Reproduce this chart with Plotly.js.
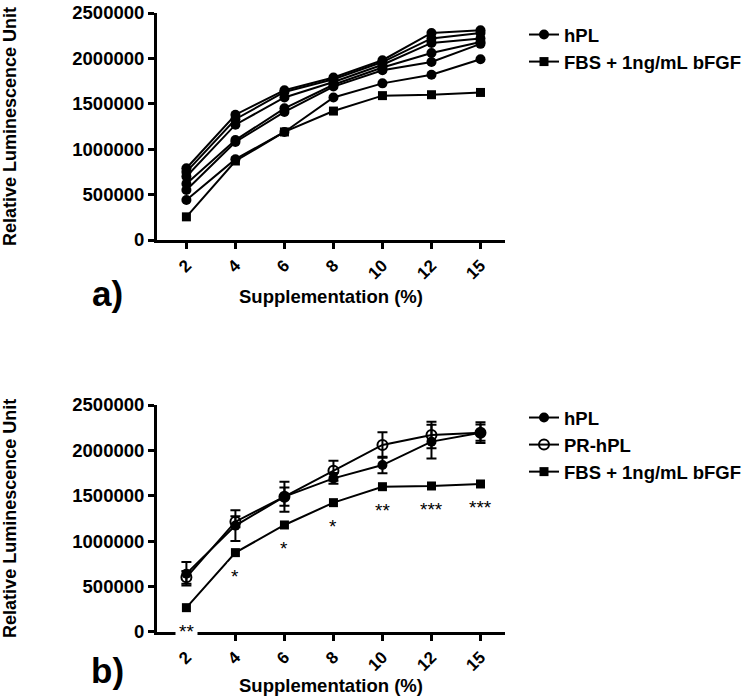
<!DOCTYPE html>
<html>
<head>
<meta charset="utf-8">
<script src="https://cdn.plot.ly/plotly-3.0.1.min.js"></script>
<style>html,body{margin:0;padding:0;background:#fff;}#chart{width:750px;height:700px;}</style>
</head>
<body>
<div id="chart"></div>
<script>
// ---------- data ----------
const categories = ['2', '4', '6', '8', '10', '12', '15'];

// panel a) : individual hPL lots and FBS control
const hplA1 = [790000, 1380000, 1650000, 1790000, 1980000, 2280000, 2310000];
const hplA2 = [750000, 1330000, 1630000, 1770000, 1960000, 2220000, 2280000];
const hplA3 = [700000, 1270000, 1570000, 1740000, 1930000, 2170000, 2220000];
const hplA4 = [620000, 1100000, 1450000, 1710000, 1900000, 2060000, 2180000];
const hplA5 = [550000, 1080000, 1410000, 1690000, 1870000, 1960000, 2160000];
const hplA6 = [440000, 890000, 1190000, 1570000, 1725000, 1820000, 1990000];
const fbsA  = [255000, 870000, 1190000, 1420000, 1590000, 1600000, 1625000];

// panel b) : means with error
const hplB     = [640000, 1170000, 1489000, 1691000, 1838000, 2096000, 2195000];
const hplBErr  = [130000, 170000, 100000, 60000, 90000, 185000, 115000];
const prB      = [600000, 1213000, 1489000, 1776000, 2059000, 2169000, 2195000];
const prBErr   = [70000, 60000, 165000, 110000, 140000, 147000, 90000];
const fbsB     = [265000, 872000, 1177000, 1423000, 1599000, 1607000, 1629000];
const starsB   = ['**', '*', '*', '*', '**', '***', '***'];

// ---------- styling ----------
const FAM = 'Liberation Sans, Arial, Helvetica, sans-serif';
const BOLD = (s) => ({family: FAM, size: s, color: '#000', weight: 'bold'});

function lineTrace(y, xa, ya, sym, name, show, leg, err) {
  const t = {
    x: categories, y: y, xaxis: xa, yaxis: ya, type: 'scatter', mode: 'lines+markers',
    name: name, showlegend: show, legend: leg, cliponaxis: false,
    line: {color: '#000', width: 2},
    marker: {symbol: sym, size: sym === 'square' ? 9 : 10, color: '#000',
             line: {color: '#000', width: sym === 'circle-open' ? 2 : 0}}
  };
  if (err) t.error_y = {type: 'data', array: err, visible: true, color: '#000', thickness: 2, width: 5};
  return t;
}

const traces = [
  lineTrace(hplA1, 'x', 'y', 'circle', 'hPL', true, 'legend'),
  lineTrace(hplA2, 'x', 'y', 'circle', 'hPL', false, 'legend'),
  lineTrace(hplA3, 'x', 'y', 'circle', 'hPL', false, 'legend'),
  lineTrace(hplA4, 'x', 'y', 'circle', 'hPL', false, 'legend'),
  lineTrace(hplA5, 'x', 'y', 'circle', 'hPL', false, 'legend'),
  lineTrace(hplA6, 'x', 'y', 'circle', 'hPL', false, 'legend'),
  lineTrace(fbsA, 'x', 'y', 'square', 'FBS + 1ng/mL bFGF', true, 'legend'),
  lineTrace(hplB, 'x2', 'y2', 'circle', 'hPL', true, 'legend2', hplBErr),
  lineTrace(prB, 'x2', 'y2', 'circle-open', 'PR-hPL', true, 'legend2', prBErr),
  lineTrace(fbsB, 'x2', 'y2', 'square', 'FBS + 1ng/mL bFGF', true, 'legend2')
];

function xAxis(dom, anchor, standoff) {
  return {
    domain: dom, anchor: anchor, type: 'category', range: [-0.6, 6.5],
    showline: true, linewidth: 3, linecolor: '#000', mirror: false,
    ticks: 'outside', ticklen: 6, tickwidth: 3, tickcolor: '#000',
    tickangle: -45, tickfont: BOLD(17), showgrid: false, zeroline: false,
    title: {text: 'Supplementation (%)', font: BOLD(18.5), standoff: standoff}
  };
}
function yAxis(dom, anchor) {
  return {
    domain: dom, anchor: anchor, range: [0, 2500000], dtick: 500000, tick0: 0,
    tickformat: 'd', showline: true, linewidth: 3, linecolor: '#000',
    ticks: 'outside', ticklen: 6, tickwidth: 3, tickcolor: '#000',
    tickfont: BOLD(18.5), showgrid: false, zeroline: false,
    title: {text: 'Relative Luminescence Unit', font: BOLD(18), standoff: 52}
  };
}

const W = 750, H = 700;
const xdom = [157 / W, 505 / W];
const layout = {
  width: W, height: H, paper_bgcolor: '#fff', plot_bgcolor: '#fff',
  margin: {l: 0, r: 0, t: 0, b: 0},
  font: {family: FAM, color: '#000'},
  xaxis: xAxis(xdom, 'y', 8),
  yaxis: yAxis([1 - 240 / H, 1 - 13 / H], 'x'),
  xaxis2: xAxis(xdom, 'y2', 3),
  yaxis2: yAxis([1 - 631.7 / H, 1 - 405 / H], 'x2'),
  legend: {x: 524 / W, y: 1 - 16 / H, xanchor: 'left', yanchor: 'top',
           font: BOLD(18.5), bgcolor: 'rgba(0,0,0,0)', borderwidth: 0},
  legend2: {x: 524 / W, y: 1 - 399 / H, xanchor: 'left', yanchor: 'top',
            font: BOLD(18.5), bgcolor: 'rgba(0,0,0,0)', borderwidth: 0},
  annotations: [
    {text: 'a)', xref: 'paper', yref: 'paper', x: 107 / W, y: 1 - 293 / H,
     showarrow: false, font: BOLD(35), xanchor: 'center', yanchor: 'middle'},
    {text: 'b)', xref: 'paper', yref: 'paper', x: 107 / W, y: 1 - 670 / H,
     showarrow: false, font: BOLD(35), xanchor: 'center', yanchor: 'middle'}
  ].concat(categories.map((c, i) => ({
    text: starsB[i], x: i, y: fbsB[i], xref: 'x2', yref: 'y2', showarrow: false,
    yshift: -24, font: {family: FAM, size: 19, color: '#000'},
    bgcolor: '#fff', borderpad: 3, xanchor: 'center', yanchor: 'middle'
  })))
};

Plotly.newPlot('chart', traces, layout, {staticPlot: true, displayModeBar: false});
</script>
</body>
</html>
